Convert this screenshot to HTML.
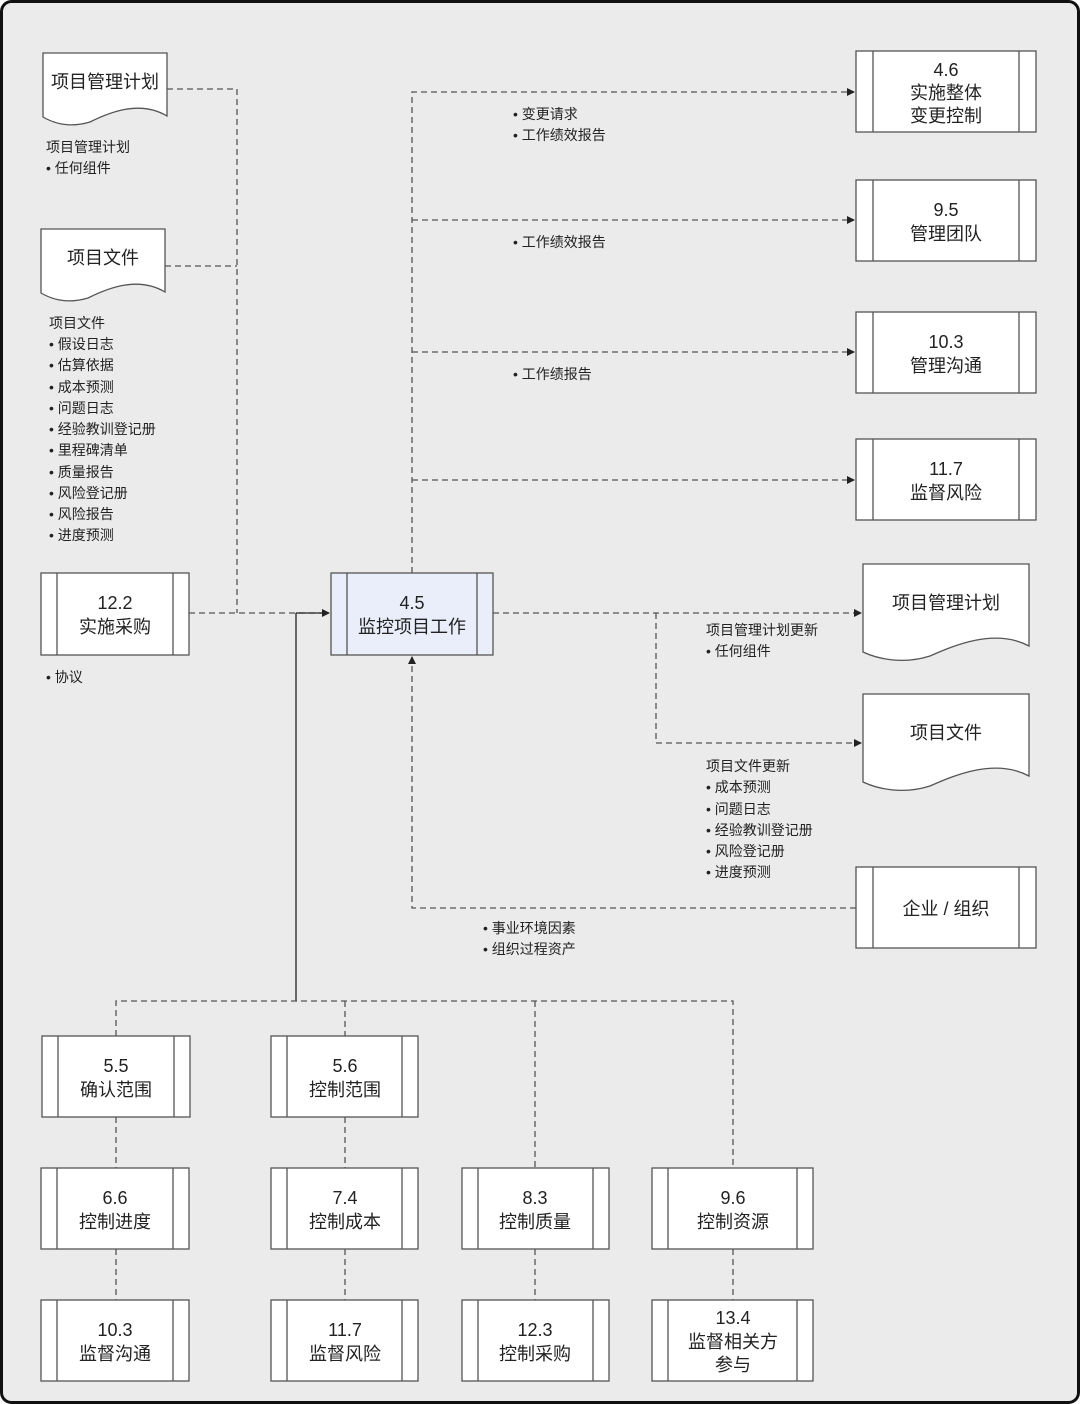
<!DOCTYPE html>
<html><head><meta charset="utf-8"><style>
html,body{margin:0;padding:0;background:#fff}
svg{display:block}
text{font-family:"Liberation Sans","Noto Sans CJK SC",sans-serif;fill:#222}
.b{font-size:18px;text-anchor:middle}
.s{font-size:14px}
.d{stroke:#555;stroke-width:1.3;stroke-dasharray:6,4;fill:none}
.p{fill:#fff;stroke:#555;stroke-width:1.3}
</style></head><body>
<svg width="1080" height="1404" viewBox="0 0 1080 1404" xmlns="http://www.w3.org/2000/svg">
<defs><marker id="a" markerWidth="8" markerHeight="8" refX="7" refY="4" orient="auto" markerUnits="userSpaceOnUse"><path d="M0,0 L8,4 L0,8z" fill="#222"/></marker></defs>
<rect x="1.5" y="1.5" width="1077" height="1401" rx="10" fill="#ebebeb" stroke="#111" stroke-width="3"/>

<!-- connectors -->
<path class="d" d="M167,89 H237 V613"/>
<path class="d" d="M165,266 H237"/>
<path class="d" d="M189,613 H329" marker-end="url(#a)"/>
<path class="d" d="M412,573 V92 H854" marker-end="url(#a)"/>
<path class="d" d="M412,220 H854" marker-end="url(#a)"/>
<path class="d" d="M412,352 H854" marker-end="url(#a)"/>
<path class="d" d="M412,480 H854" marker-end="url(#a)"/>
<path d="M296,613 H329 M296,613 V1001" stroke="#222" stroke-width="1.3" fill="none"/>
<path class="d" d="M116,1036 V1001 H733 V1168 M345,1001 V1036 M535,1001 V1168"/>
<path class="d" d="M116,1117 V1168 M116,1249 V1300 M345,1117 V1168 M345,1249 V1300 M535,1249 V1300 M733,1249 V1300"/>
<path class="d" d="M493,613 H861" marker-end="url(#a)"/>
<path class="d" d="M656,613 V743 H861" marker-end="url(#a)"/>
<path class="d" d="M856,908 H412 V657" marker-end="url(#a)"/>

<!-- docs left -->
<path class="p" d="M43,53 H167 V116 C140,100 110,112 90,122 C70,128 55,124 43,117 Z"/>
<text class="b" x="105" y="88">项目管理计划</text>
<path class="p" d="M41,229 H165 V292 C138,276 108,288 88,298 C68,304 53,300 41,293 Z"/>
<text class="b" x="103" y="264">项目文件</text>

<g class="s">
<text class="s" x="46" y="152">项目管理计划</text>
<text class="s" x="46" y="173">• 任何组件</text>
<text class="s" x="49" y="328">项目文件</text>
<text class="s" x="49" y="349">• 假设日志</text>
<text class="s" x="49" y="370">• 估算依据</text>
<text class="s" x="49" y="392">• 成本预测</text>
<text class="s" x="49" y="413">• 问题日志</text>
<text class="s" x="49" y="434">• 经验教训登记册</text>
<text class="s" x="49" y="455">• 里程碑清单</text>
<text class="s" x="49" y="477">• 质量报告</text>
<text class="s" x="49" y="498">• 风险登记册</text>
<text class="s" x="49" y="519">• 风险报告</text>
<text class="s" x="49" y="540">• 进度预测</text>
<text class="s" x="46" y="682">• 协议</text>
<text class="s" x="513" y="119">• 变更请求</text>
<text class="s" x="513" y="140">• 工作绩效报告</text>
<text class="s" x="513" y="247">• 工作绩效报告</text>
<text class="s" x="513" y="379">• 工作绩报告</text>
<text class="s" x="706" y="635">项目管理计划更新</text>
<text class="s" x="706" y="656">• 任何组件</text>
<text class="s" x="706" y="771">项目文件更新</text>
<text class="s" x="706" y="792">• 成本预测</text>
<text class="s" x="706" y="814">• 问题日志</text>
<text class="s" x="706" y="835">• 经验教训登记册</text>
<text class="s" x="706" y="856">• 风险登记册</text>
<text class="s" x="706" y="877">• 进度预测</text>
<text class="s" x="483" y="933">• 事业环境因素</text>
<text class="s" x="483" y="954">• 组织过程资产</text>
</g>

<!-- right docs -->
<path class="p" d="M863,564 H1029 V646 C995,628 955,645 930,656 C905,664 880,660 863,652 Z"/>
<text class="b" x="946" y="609">项目管理计划</text>
<path class="p" d="M863,694 H1029 V776 C995,758 955,775 930,786 C905,794 880,790 863,782 Z"/>
<text class="b" x="946" y="739">项目文件</text>

<!-- process boxes -->
<g id="boxes">
<g><rect class="p" x="41" y="573" width="148" height="82"/><path d="M57,573V655M173,573V655" stroke="#555" stroke-width="1.3"/><text class="b" x="115" y="609">12.2</text><text class="b" x="115" y="633">实施采购</text></g>
<g><rect x="331" y="573" width="162" height="82" fill="#e9eefa" stroke="#555" stroke-width="1.3"/><path d="M347,573V655M477,573V655" stroke="#555" stroke-width="1.3"/><text class="b" x="412" y="609">4.5</text><text class="b" x="412" y="633">监控项目工作</text></g>

<g><rect class="p" x="856" y="51" width="180" height="81"/><path d="M873,51V132M1019,51V132" stroke="#555" stroke-width="1.3"/><text class="b" x="946" y="76">4.6</text><text class="b" x="946" y="99">实施整体</text><text class="b" x="946" y="122">变更控制</text></g>
<g><rect class="p" x="856" y="180" width="180" height="81"/><path d="M873,180V261M1019,180V261" stroke="#555" stroke-width="1.3"/><text class="b" x="946" y="216">9.5</text><text class="b" x="946" y="240">管理团队</text></g>
<g><rect class="p" x="856" y="312" width="180" height="81"/><path d="M873,312V393M1019,312V393" stroke="#555" stroke-width="1.3"/><text class="b" x="946" y="348">10.3</text><text class="b" x="946" y="372">管理沟通</text></g>
<g><rect class="p" x="856" y="439" width="180" height="81"/><path d="M873,439V520M1019,439V520" stroke="#555" stroke-width="1.3"/><text class="b" x="946" y="475">11.7</text><text class="b" x="946" y="499">监督风险</text></g>
<g><rect class="p" x="856" y="867" width="180" height="81"/><path d="M873,867V948M1019,867V948" stroke="#555" stroke-width="1.3"/><text class="b" x="946" y="915">企业 / 组织</text></g>

<g><rect class="p" x="42" y="1036" width="148" height="81"/><path d="M58,1036V1117M174,1036V1117" stroke="#555" stroke-width="1.3"/><text class="b" x="116" y="1072">5.5</text><text class="b" x="116" y="1096">确认范围</text></g>
<g><rect class="p" x="271" y="1036" width="147" height="81"/><path d="M287,1036V1117M402,1036V1117" stroke="#555" stroke-width="1.3"/><text class="b" x="345" y="1072">5.6</text><text class="b" x="345" y="1096">控制范围</text></g>

<g><rect class="p" x="41" y="1168" width="148" height="81"/><path d="M57,1168V1249M173,1168V1249" stroke="#555" stroke-width="1.3"/><text class="b" x="115" y="1204">6.6</text><text class="b" x="115" y="1228">控制进度</text></g>
<g><rect class="p" x="271" y="1168" width="147" height="81"/><path d="M287,1168V1249M402,1168V1249" stroke="#555" stroke-width="1.3"/><text class="b" x="345" y="1204">7.4</text><text class="b" x="345" y="1228">控制成本</text></g>
<g><rect class="p" x="462" y="1168" width="147" height="81"/><path d="M478,1168V1249M593,1168V1249" stroke="#555" stroke-width="1.3"/><text class="b" x="535" y="1204">8.3</text><text class="b" x="535" y="1228">控制质量</text></g>
<g><rect class="p" x="652" y="1168" width="161" height="81"/><path d="M668,1168V1249M797,1168V1249" stroke="#555" stroke-width="1.3"/><text class="b" x="733" y="1204">9.6</text><text class="b" x="733" y="1228">控制资源</text></g>

<g><rect class="p" x="41" y="1300" width="148" height="81"/><path d="M57,1300V1381M173,1300V1381" stroke="#555" stroke-width="1.3"/><text class="b" x="115" y="1336">10.3</text><text class="b" x="115" y="1360">监督沟通</text></g>
<g><rect class="p" x="271" y="1300" width="147" height="81"/><path d="M287,1300V1381M402,1300V1381" stroke="#555" stroke-width="1.3"/><text class="b" x="345" y="1336">11.7</text><text class="b" x="345" y="1360">监督风险</text></g>
<g><rect class="p" x="462" y="1300" width="147" height="81"/><path d="M478,1300V1381M593,1300V1381" stroke="#555" stroke-width="1.3"/><text class="b" x="535" y="1336">12.3</text><text class="b" x="535" y="1360">控制采购</text></g>
<g><rect class="p" x="652" y="1300" width="161" height="81"/><path d="M668,1300V1381M797,1300V1381" stroke="#555" stroke-width="1.3"/><text class="b" x="733" y="1324">13.4</text><text class="b" x="733" y="1348">监督相关方</text><text class="b" x="733" y="1371">参与</text></g>
</g>
</svg>
</body></html>
